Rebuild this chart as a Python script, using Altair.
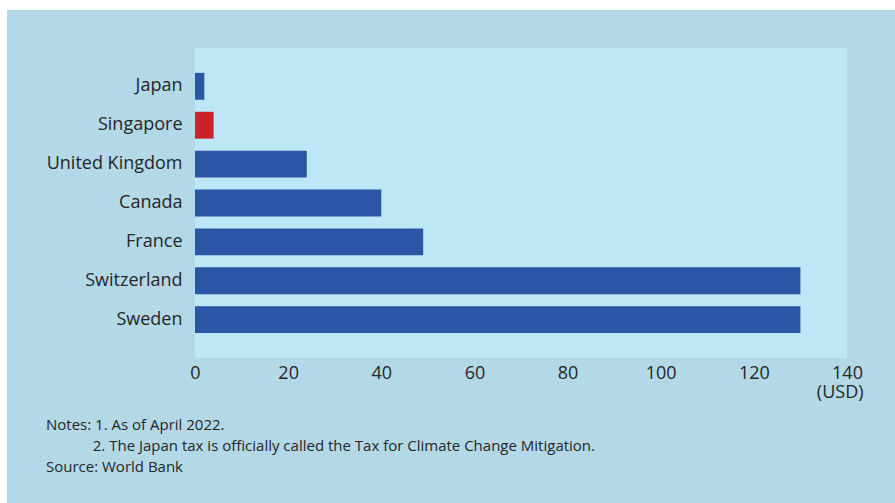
import altair as alt
import pandas as pd

countries = ["Japan", "Singapore", "United Kingdom", "Canada", "France", "Switzerland", "Sweden"]
prices = [2, 4, 24, 40, 49, 130, 130]
highlight = ["other", "Singapore", "other", "other", "other", "other", "other"]
x_ticks = [0, 20, 40, 60, 80, 100, 120, 140]
notes = [
    "Notes: 1. As of April 2022.",
    "\u200b" + "\u00a0" * 12 + "2. The Japan tax is officially called the Tax for Climate Change Mitigation.",
    "Source: World Bank",
]

df = pd.DataFrame({"country": countries, "price": prices, "group": highlight})

FONT = "Open Sans"
TEXT = "#262626"

bars = alt.Chart(df).mark_bar().encode(
    y=alt.Y(
        "country:N",
        sort=countries,
        scale=alt.Scale(paddingInner=0.31, paddingOuter=0.64),
        axis=alt.Axis(
            title=None, ticks=False, domain=False, labelPadding=13,
            labelFontSize=18, labelFont=FONT, labelColor=TEXT, grid=False,
        ),
    ),
    x=alt.X(
        "price:Q",
        scale=alt.Scale(domain=[0, 140], nice=False),
        axis=alt.Axis(
            values=x_ticks, ticks=False, domain=False, grid=False,
            labelPadding=6, labelFontSize=18, labelFont=FONT, labelColor=TEXT,
            labelFlush=False,
            title="(USD)", titleFont=FONT, titleFontSize=18, titleFontWeight="normal",
            titleColor=TEXT, titleAlign="right", titleX=668, titleY=39,
            titleBaseline="alphabetic",
        ),
    ),
    color=alt.Color(
        "group:N",
        scale=alt.Scale(domain=["other", "Singapore"], range=["#2b55a5", "#cd2229"]),
        legend=None,
    ),
)

# decorative white page margin above and left of the panel
frame_df = pd.DataFrame({"k": [0]})
top_strip = alt.Chart(frame_df).mark_rect(color="white").encode(
    x=alt.value(-195), x2=alt.value(700), y=alt.value(-48), y2=alt.value(-38)
)
left_strip = alt.Chart(frame_df).mark_rect(color="white").encode(
    x=alt.value(-195), x2=alt.value(-188), y=alt.value(-48), y2=alt.value(455)
)

chart = alt.layer(top_strip, left_strip, bars).properties(
    width=652,
    height=310,
    autosize=alt.AutoSizeParams(type="none"),
    padding={"left": 195, "top": 48, "right": 48, "bottom": 145},
    background="#b3d8e8",
    title=alt.TitleParams(
        text=notes, orient="bottom", anchor="start", frame="group",
        font=FONT, fontSize=15, fontWeight="normal", color=TEXT,
        lineHeight=21, dx=-149, offset=-85,
    ),
).configure_view(fill="#bde6f7", stroke=None)

chart.save("out.html", embed_options={"renderer": "svg", "actions": False})
